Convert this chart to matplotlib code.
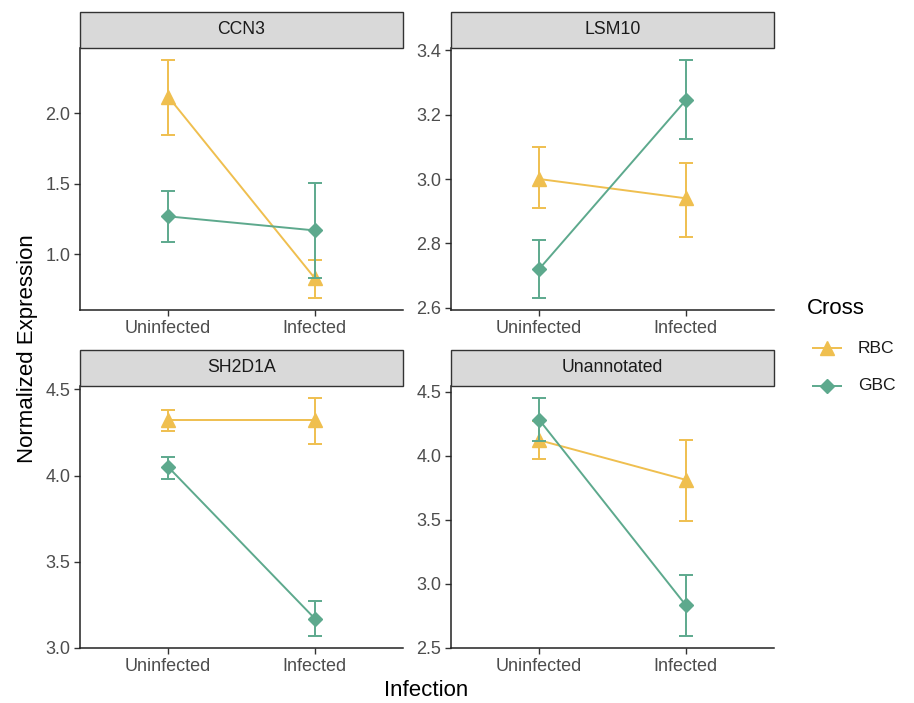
import matplotlib
matplotlib.use("Agg")
import matplotlib.pyplot as plt
from matplotlib.patches import Rectangle

plt.rcParams['font.family'] = ['Liberation Sans', 'DejaVu Sans']

# Data
genes = ["CCN3", "LSM10", "SH2D1A", "Unannotated"]
infection = ["Uninfected", "Infected"]

rbc_mean = [[2.12, 0.83], [3.00, 2.94], [4.32, 4.32], [4.12, 3.81]]
rbc_lo = [[1.85, 0.69], [2.91, 2.82], [4.26, 4.18], [3.97, 3.49]]
rbc_hi = [[2.38, 0.96], [3.10, 3.05], [4.38, 4.45], [4.27, 4.12]]

gbc_mean = [[1.27, 1.17], [2.72, 3.245], [4.05, 3.17], [4.28, 2.83]]
gbc_lo = [[1.09, 0.83], [2.63, 3.125], [3.98, 3.07], [4.11, 2.59]]
gbc_hi = [[1.45, 1.51], [2.81, 3.37], [4.11, 3.27], [4.45, 3.07]]

yticks = [[1.0, 1.5, 2.0], [2.6, 2.8, 3.0, 3.2, 3.4], [3.0, 3.5, 4.0, 4.5], [2.5, 3.0, 3.5, 4.0, 4.5]]

yellow = "#EFBF4F"
green = "#5DA98D"

W, H = 914, 703
fig = plt.figure(figsize=(W / 100, H / 100), dpi=100)

# panel rectangles in pixels: left, top(of plot area), right, bottom
panels = [(80, 48, 403, 310), (451, 48, 774, 310), (80, 386, 403, 648), (451, 386, 774, 648)]
strip_h = 36

for i, g in enumerate(genes):
    l, t, r, b = panels[i]
    ax = fig.add_axes([l / W, 1 - b / H, (r - l) / W, (b - t) / H])
    x = [1, 2]
    for mean, lo, hi, col, mk, ms, z in [
        (rbc_mean[i], rbc_lo[i], rbc_hi[i], yellow, "^", 10.5, 3),
        (gbc_mean[i], gbc_lo[i], gbc_hi[i], green, "D", 7, 4),
    ]:
        yerr = [[m - a for m, a in zip(mean, lo)], [c - m for m, c in zip(mean, hi)]]
        ax.errorbar(x, mean, yerr=yerr, color=col, marker=mk, markersize=ms,
                    lw=1.4, elinewidth=1.4, capsize=5, capthick=1.4, zorder=z)
    allv = rbc_lo[i] + rbc_hi[i] + gbc_lo[i] + gbc_hi[i]
    lo_, hi_ = min(allv), max(allv)
    pad = (hi_ - lo_) * 0.05
    ax.set_ylim(lo_ - pad, hi_ + pad)
    ax.set_xlim(0.4, 2.6)
    ax.set_xticks(x)
    ax.set_xticklabels(infection)
    ax.set_yticks(yticks[i])
    ax.set_yticklabels(["{:.1f}".format(v) for v in yticks[i]])
    for s in ["top", "right"]:
        ax.spines[s].set_visible(False)
    for s in ["left", "bottom"]:
        ax.spines[s].set_linewidth(1.1)
        ax.spines[s].set_color("#222222")
    ax.tick_params(colors="#333333", labelcolor="#4d4d4d", labelsize=13, length=4, width=1, pad=3)
    # strip
    fig.patches.append(Rectangle((l / W, 1 - t / H), (r - l) / W, strip_h / H,
                                 transform=fig.transFigure, facecolor="#D9D9D9",
                                 edgecolor="#333333", lw=1.0))
    fig.text((l + r) / 2 / W, 1 - (t - strip_h / 2) / H, g, ha="center", va="center",
             fontsize=12.7, color="#1a1a1a")

fig.text(28 / W, 1 - 349 / H, "Normalized Expression", rotation=90, ha="center", va="center",
         fontsize=16, color="black")
fig.text(426 / W, 1 - 690 / H, "Infection", ha="center", va="center", fontsize=16, color="black")

# legend
fig.text(807 / W, 1 - 308 / H, "Cross", ha="left", va="center", fontsize=16)
leg = [("RBC", yellow, "^", 10.5, 348), ("GBC", green, "D", 7, 386)]
for name, col, mk, ms, yy in leg:
    lx = fig.add_axes([812 / W, 1 - (yy + 10) / H, 30 / W, 20 / H])
    lx.plot([0, 1], [0, 0], color=col, lw=1.4)
    lx.plot([0.5], [0], color=col, marker=mk, markersize=ms)
    lx.set_xlim(0, 1)
    lx.set_ylim(-1, 1)
    lx.axis("off")
    fig.text(858 / W, 1 - yy / H, name, ha="left", va="center", fontsize=12.6, color="#1a1a1a")

fig.savefig("out.png", dpi=100)
